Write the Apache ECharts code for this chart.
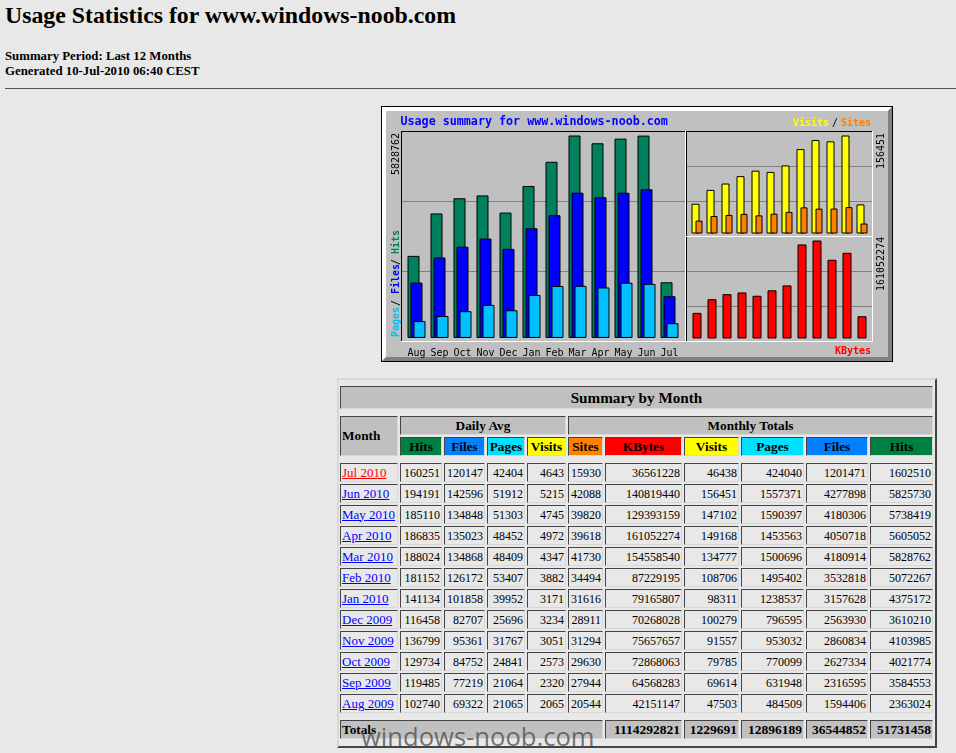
<!DOCTYPE html>
<html>
<head>
    <title>Usage Statistics for www.windows-noob.com</title>
    <script src="https://cdn.jsdelivr.net/npm/echarts@6/dist/echarts.min.js"></script>
    <style>
        html, body { margin: 0; padding: 0; width: 956px; height: 753px; overflow: hidden; background: #e8e8e8; }
        body { font-family: "Liberation Serif", serif; color: #000; position: relative; }
        h2 { position: absolute; left: 5px; top: 1px; margin: 0; font-size: 23.8px; line-height: 28px; font-weight: bold; white-space: nowrap; }
        .period { position: absolute; left: 5px; top: 49px; font-size: 12.8px; line-height: 15px; font-weight: bold; white-space: nowrap; }
        .rule { position: absolute; left: 5px; right: 0; top: 88px; height: 1px; background: #555; }
        #chart { position: absolute; left: 381px; top: 106px; width: 512px; height: 256px; }
        .frame { position: absolute; left: 337px; top: 378px; width: 596px; height: 366px; border: 2px solid; border-color: #d8d8d8 #444 #444 #d8d8d8; }
        #summary { position: absolute; left: 338px; top: 380px; table-layout: fixed; width: 597px; border-collapse: separate; border-spacing: 2px; font-size: 12px; }
        #summary td, #summary th { box-sizing: border-box; height: 19px; line-height: 16px; padding: 0 1px; border: 1px solid; border-color: #444 #d8d8d8 #d8d8d8 #444; white-space: nowrap; overflow: hidden; }
        #summary td { text-align: right; }
        #summary th { text-align: center; background: #c0c0c0; font-size: 13.3px; }
        #summary td.gap { height: auto; line-height: 0; font-size: 0; padding: 0; border: 0; }
        #summary th.head { font-size: 15.2px; height: 23px; }
        #summary th.month { text-align: left; }
        #summary td.month { text-align: left; font-size: 13px; }
        #summary th.total { text-align: right; font-size: 13.5px; }
        #summary a { color: #0000ff; }
        #summary a.current { color: #ff0000; }
        .mark { position: absolute; left: 361px; top: 719px; font-family: "Open Sans", sans-serif; font-size: 25.6px; line-height: 36px; color: rgba(80,80,80,0.8); white-space: nowrap; }
    </style>
</head>
<body>
    <h2>Usage Statistics for www.windows-noob.com</h2>
    <div class="period">Summary Period: Last 12 Months<br>Generated 10-Jul-2010 06:40 CEST</div>
    <div class="rule"></div>
    <div id="chart"></div>
    <div class="frame"></div>
    <table id="summary"></table>
    <div class="mark">windows-noob.com</div>

    <script>
    // oldest month first, same order as the bars
    const months = ['Aug', 'Sep', 'Oct', 'Nov', 'Dec', 'Jan', 'Feb', 'Mar', 'Apr', 'May', 'Jun', 'Jul'];
    const monthNames = ['Aug 2009', 'Sep 2009', 'Oct 2009', 'Nov 2009', 'Dec 2009', 'Jan 2010', 'Feb 2010', 'Mar 2010', 'Apr 2010', 'May 2010', 'Jun 2010', 'Jul 2010'];

    const dailyHits = [102740, 119485, 129734, 136799, 116458, 141134, 181152, 188024, 186835, 185110, 194191, 160251];
    const dailyFiles = [69322, 77219, 84752, 95361, 82707, 101858, 126172, 134868, 135023, 134848, 142596, 120147];
    const dailyPages = [21065, 21064, 24841, 31767, 25696, 39952, 53407, 48409, 48452, 51303, 51912, 42404];
    const dailyVisits = [2065, 2320, 2573, 3051, 3234, 3171, 3882, 4347, 4972, 4745, 5215, 4643];

    const sites = [20544, 27944, 29630, 31294, 28911, 31616, 34494, 41730, 39618, 39820, 42088, 15930];
    const kbytes = [42151147, 64568283, 72868063, 75657657, 70268028, 79165807, 87229195, 154558540, 161052274, 129393159, 140819440, 36561228];
    const visits = [47503, 69614, 79785, 91557, 100279, 98311, 108706, 134777, 149168, 147102, 156451, 46438];
    const pages = [484509, 631948, 770099, 953032, 796595, 1238537, 1495402, 1500696, 1453563, 1590397, 1557371, 424040];
    const files = [1594406, 2316595, 2627334, 2860834, 2563930, 3157628, 3532818, 4180914, 4050718, 4180306, 4277898, 1201471];
    const hits = [2363024, 3584553, 4021774, 4103985, 3610210, 4375172, 5072267, 5828762, 5605052, 5738419, 5825730, 1602510];

    const totals = ['1114292821', '1229691', '12896189', '36544852', '51731458'];

    const columnWidths = [58, 42, 41, 38, 39, 35, 77, 55, 63, 62, 63];

    // the summary table, newest month on top
    function buildTable() {
        const gap = h => `<tr><td class="gap" colspan="11" style="height:${h}px"></td></tr>`;
        let html = '<colgroup>' + columnWidths.map(w => `<col style="width:${w}px">`).join('') + '</colgroup>';
        html += gap(2);
        html += '<tr><th class="head" colspan="11">Summary by Month</th></tr>';
        html += gap(3);
        html += '<tr><th class="month" rowspan="2">Month</th><th colspan="4">Daily Avg</th><th colspan="6">Monthly Totals</th></tr>';
        const heads = [['Hits', '#008040'], ['Files', '#0080ff'], ['Pages', '#00e0ff'], ['Visits', '#ffff00'], ['Sites', '#ff8000'],
            ['KBytes', '#ff0000'], ['Visits', '#ffff00'], ['Pages', '#00e0ff'], ['Files', '#0080ff'], ['Hits', '#008040']];
        html += '<tr>' + heads.map(h => `<th style="background:${h[1]}">${h[0]}</th>`).join('') + '</tr>';
        html += gap(3);
        for (let i = months.length - 1; i >= 0; i--) {
            const cls = i === months.length - 1 ? ' class="current"' : '';
            const row = [dailyHits, dailyFiles, dailyPages, dailyVisits, sites, kbytes, visits, pages, files, hits];
            html += `<tr><td class="month"><a href="#"${cls}>${monthNames[i]}</a></td>`
                + row.map(s => `<td>${s[i]}</td>`).join('') + '</tr>';
        }
        html += gap(3);
        html += '<tr><th class="month" colspan="6">Totals</th>' + totals.map(t => `<th class="total">${t}</th>`).join('') + '</tr>';
        html += gap(3);
        document.getElementById('summary').innerHTML = html;
    }
    buildTable();

    const GREY = '#c0c0c0';
    const monoFont = '"DejaVu Sans Mono", monospace';

    function box(x, y, width, height, fill, z) {
        return { type: 'rect', shape: { x, y, width, height }, style: { fill }, z: z || 0, silent: true };
    }
    function poly(points, fill) {
        return { type: 'polygon', shape: { points }, style: { fill }, z: 0, silent: true };
    }
    function label(text, x, y, color, opts) {
        opts = opts || {};
        return {
            type: 'text', x, y, rotation: opts.vertical ? Math.PI / 2 : 0, z: 50, silent: true,
            style: {
                text, fill: color, align: opts.align || 'left', verticalAlign: 'middle',
                font: `${opts.bold ? 'bold ' : ''}${opts.size || 10}px ${monoFont}`
            }
        };
    }
    // panel with black top/left and white bottom/right edge
    function panelEdges(x, y, w, h) {
        return [
            box(x, y, w + 1, 1, '#000', 20), box(x, y, 1, h + 1, '#000', 20),
            box(x, y + h, w + 1, 1, '#fff', 21), box(x + w, y, 1, h + 1, '#fff', 21)
        ];
    }

    const graphics = [
        // outer bevel
        box(0, 0, 512, 256, '#000'),
        box(1, 1, 510, 254, GREY),
        poly([[1, 1], [511, 1], [507, 5], [5, 5], [5, 251], [1, 255]], '#fff'),
        poly([[511, 1], [511, 255], [1, 255], [5, 251], [507, 251], [507, 5]], '#808080')
    ].concat(
        panelEdges(20, 25, 284, 210),
        panelEdges(305, 25, 186, 105),
        panelEdges(305, 130, 186, 105),
        [
            label('Usage summary for www.windows-noob.com', 19.5, 15.5, '#0000ff', { bold: true, size: 11.7 }),
            label('Visits', 412, 17, '#ffff00', { bold: true }),
            label('/', 451, 17, '#000'),
            label('Sites', 460, 17, '#ff8000', { bold: true }),
            label('KBytes', 490, 245.5, '#ff0000', { bold: true, align: 'right' }),
            label(String(Math.max(...hits)), 15, 69, '#000', { vertical: true }),
            label(String(Math.max(...visits)), 500.5, 63, '#000', { vertical: true }),
            label(String(Math.max(...kbytes)), 500.5, 185, '#000', { vertical: true }),
            label('Pages', 15, 231, '#00c0ff', { vertical: true, bold: true }),
            label('/', 15, 200, '#000', { vertical: true }),
            label('Files', 15, 188, '#0000ff', { vertical: true, bold: true }),
            label('/', 15, 159, '#000', { vertical: true }),
            label('Hits', 15, 148, '#00805c', { vertical: true, bold: true })
        ]
    );

    // grid rectangles, in pixels of the chart box
    const panelGrids = [
        { left: 21, top: 25, width: 283, height: 210 },
        { left: 306, top: 25, width: 185, height: 105 },
        { left: 306, top: 130, width: 185, height: 105 }
    ];
    const barGrids = [
        { left: 24, top: 29.5, width: 276, height: 203 },
        { left: 308.5, top: 29.5, width: 180, height: 98 },
        { left: 308.5, top: 134.5, width: 180, height: 98 }
    ];

    const xAxes = [];
    const yAxes = [];
    const grids = [];
    panelGrids.forEach((g, i) => {
        grids.push(g);
        xAxes.push({ gridIndex: i, type: 'value', show: false, min: 0, max: 1 });
        yAxes.push({
            gridIndex: i, type: 'value', min: 0, max: 3, interval: 1,
            axisLine: { show: false }, axisTick: { show: false }, axisLabel: { show: false },
            splitLine: { show: true, showMinLine: false, showMaxLine: false, lineStyle: { color: '#808080', width: 1 } }
        });
    });
    const barMax = [Math.max(...hits), Math.max(...visits), Math.max(...kbytes)];
    barGrids.forEach((g, i) => {
        grids.push(g);
        xAxes.push({
            gridIndex: i + 3, type: 'category', data: months,
            axisLine: { show: false }, axisTick: { show: false },
            axisLabel: { show: i === 0, interval: 0, margin: 6, fontFamily: monoFont, fontSize: 10, color: '#000' }
        });
        yAxes.push({
            gridIndex: i + 3, type: 'value', min: 0, max: barMax[i],
            axisLine: { show: false }, axisTick: { show: false }, axisLabel: { show: false }, splitLine: { show: false }
        });
    });

    function bar(name, data, color, axis, width, gap) {
        return {
            name, type: 'bar', data, xAxisIndex: axis, yAxisIndex: axis, barWidth: width, barGap: gap,
            itemStyle: { color, borderColor: '#000', borderWidth: 1 },
            silent: true, z: 5
        };
    }

    const chart = echarts.init(document.getElementById('chart'), null, { renderer: 'canvas' });
    chart.setOption({
        animation: false,
        backgroundColor: GREY,
        tooltip: { show: false },
        graphic: graphics,
        grid: grids,
        xAxis: xAxes,
        yAxis: yAxes,
        series: [
            bar('Hits', hits, '#00805c', 3, 12, '-75%'),
            bar('Files', files, '#0000ff', 3, 12, '-75%'),
            bar('Pages', pages, '#00c0ff', 3, 12, '-75%'),
            bar('Visits', visits, '#ffff00', 4, 8, '-50%'),
            bar('Sites', sites, '#ff8000', 4, 7, '-50%'),
            bar('KBytes', kbytes, '#ff0000', 5, 9, '0%')
        ]
    });
    </script>
</body>
</html>
